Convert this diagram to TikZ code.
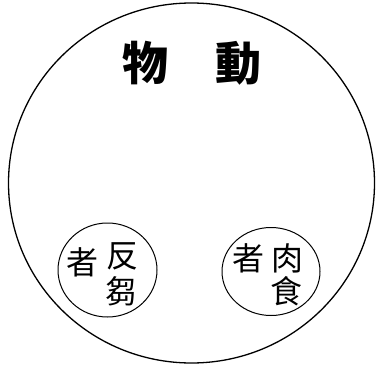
\documentclass[tikz,border=0pt]{standalone}
\usepackage{fontspec}
\newfontfamily\cjk{Noto Sans CJK TC}
\usepackage{tikz}

\tikzset{
  bigchar/.style={font=\cjk\bfseries\fontsize{46}{46}\selectfont, inner sep=0pt},
  smallchar/.style={font=\cjk\fontsize{32}{32}\selectfont, inner sep=0pt},
}

\begin{document}
\begin{tikzpicture}[x=1pt,y=1pt]
			
			\useasboundingbox (0,0) rectangle (377,368);
			
			% outer circle
			\draw[line width=1.3pt] (191.5,185) ellipse (183 and 180);
			
			% title, read right to left
			\node[bigchar] (wu)   at (145,305) {物};
			\node[bigchar] (dong) at (238,305) {動};
			
			% left inner circle
			\draw[line width=1pt] (107.5,98) ellipse (49.5 and 47);
			\node[smallchar] (zheL) at (82,106)  {者};
			\node[smallchar] (fan)  at (122,112) {反};
			\node[smallchar] (chu)  at (121,77)  {芻};
			
			% right inner circle
			\draw[line width=1pt] (271,96.5) ellipse (49 and 44);
			\node[smallchar] (zheR) at (248,110) {者};
			\node[smallchar] (rou)  at (287,110) {肉};
			\node[smallchar] (shi)  at (286,77)  {食};
			
		\end{tikzpicture}
\end{document}
